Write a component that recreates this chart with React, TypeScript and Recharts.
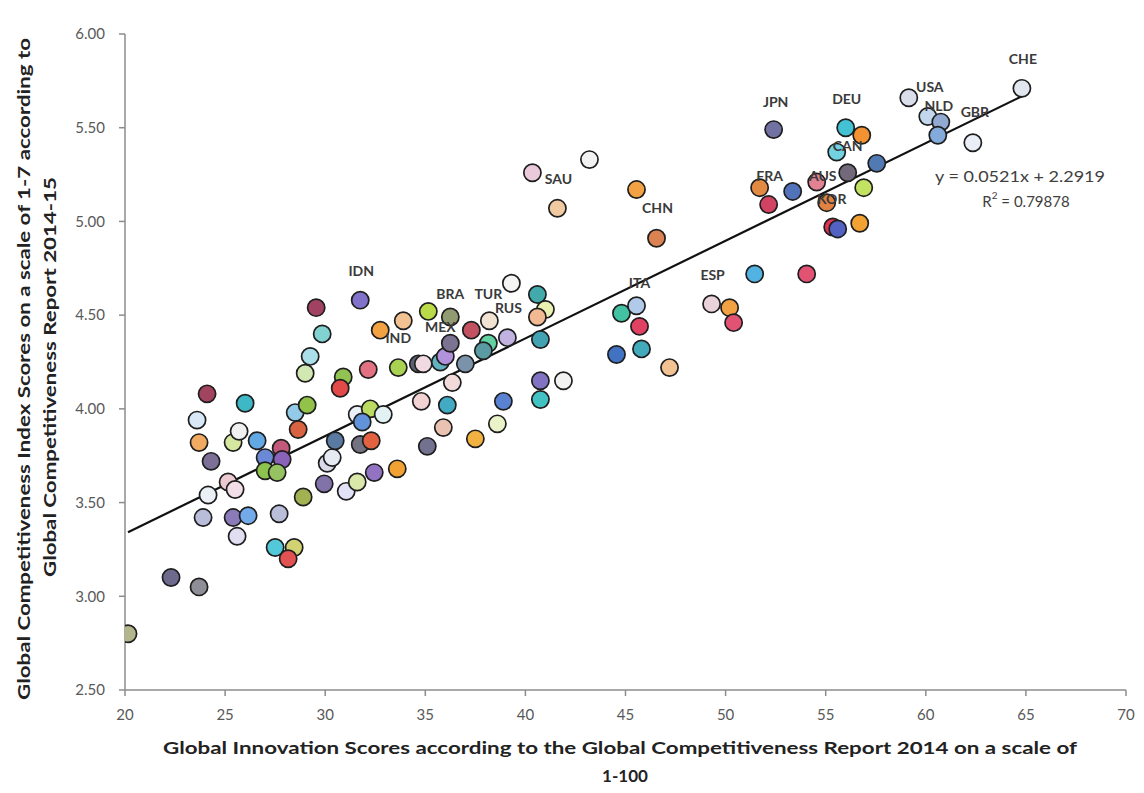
import React from 'react';
import { ScatterChart, Scatter, XAxis, YAxis, ReferenceLine } from 'recharts';

// Global Innovation score (x) and Global Competitiveness Index score (y), one entry per country
const innovationScores = [
  20.15, 22.3, 23.7, 23.6, 23.7, 24.1, 24.3, 24.15, 23.9, 26.0,
  25.4, 25.7, 26.6, 27.0, 27.8, 27.85, 27.0, 27.6, 25.15, 25.5,
  25.4, 26.15, 25.6, 27.7, 27.5, 28.45, 28.15, 28.5, 29.1, 28.65,
  29.0, 29.25, 29.85, 29.55, 28.9, 29.95, 30.1, 30.35, 30.5, 31.05,
  31.6, 32.45, 33.6, 30.9, 30.75, 32.15, 33.65, 32.75, 33.9, 31.75,
  31.6, 32.25, 32.9, 31.85, 31.75, 32.3, 34.65, 34.9, 35.75, 36.0,
  36.25, 37.0, 36.35, 35.15, 36.25, 37.3, 38.2, 39.3, 38.15, 37.9,
  39.1, 40.6, 41.0, 40.6, 40.75, 34.8, 36.1, 35.9, 35.1, 37.5,
  38.6, 38.9, 40.75, 40.75, 41.9, 40.35, 43.2, 41.6, 45.55, 46.55,
  44.8, 45.55, 45.7, 45.8, 44.55, 47.2, 49.3, 50.2, 50.4, 51.45,
  54.05, 51.7, 52.15, 53.35, 54.55, 56.1, 57.55, 55.05, 56.9, 55.35,
  55.6, 56.7, 52.4, 56.0, 56.8, 55.55, 59.15, 60.1, 60.75, 60.6,
  62.35, 64.8,
];
const competitivenessScores = [
  2.80, 3.10, 3.05, 3.94, 3.82, 4.08, 3.72, 3.54, 3.42, 4.03,
  3.82, 3.88, 3.83, 3.74, 3.79, 3.73, 3.67, 3.66, 3.61, 3.57,
  3.42, 3.43, 3.32, 3.44, 3.26, 3.26, 3.20, 3.98, 4.02, 3.89,
  4.19, 4.28, 4.40, 4.54, 3.53, 3.60, 3.71, 3.74, 3.83, 3.56,
  3.61, 3.66, 3.68, 4.17, 4.11, 4.21, 4.22, 4.42, 4.47, 4.58,
  3.97, 4.00, 3.97, 3.93, 3.81, 3.83, 4.24, 4.24, 4.25, 4.28,
  4.35, 4.24, 4.14, 4.52, 4.49, 4.42, 4.47, 4.67, 4.35, 4.31,
  4.38, 4.61, 4.53, 4.49, 4.37, 4.04, 4.02, 3.90, 3.80, 3.84,
  3.92, 4.04, 4.15, 4.05, 4.15, 5.26, 5.33, 5.07, 5.17, 4.91,
  4.51, 4.55, 4.44, 4.32, 4.29, 4.22, 4.56, 4.54, 4.46, 4.72,
  4.72, 5.18, 5.09, 5.16, 5.21, 5.26, 5.31, 5.10, 5.18, 4.97,
  4.96, 4.99, 5.49, 5.50, 5.46, 5.37, 5.66, 5.56, 5.53, 5.46,
  5.42, 5.71,
];
// Country codes shown on the chart, with the index of the point they name
const labelledCountries: [string, number][] = [
  ['CHE', 121], ['USA', 117], ['NLD', 119], ['GBR', 120], ['JPN', 112],
  ['DEU', 113], ['CAN', 105], ['FRA', 102], ['AUS', 107], ['KOR', 109],
  ['ESP', 96], ['ITA', 92], ['CHN', 89], ['SAU', 87], ['IDN', 49],
  ['IND', 46], ['MEX', 59], ['BRA', 64], ['TUR', 66], ['RUS', 70],
];
const xTicks = [20, 25, 30, 35, 40, 45, 50, 55, 60, 65, 70];
const yTicks = [2.5, 3, 3.5, 4, 4.5, 5, 5.5, 6];
const trendSlope = 0.0521;
const trendIntercept = 2.2919;
const rSquaredText = '0.79878';
const xTitle1 = 'Global Innovation Scores according to the Global Competitiveness Report 2014 on a scale of';
const xTitle2 = '1-100';
const yTitle1 = 'Global Competitiveness Index Scores on a scale of 1-7 according to';
const yTitle2 = 'Global Competitiveness Report  2014-15';

// ---- styles ----
const POINT_COLORS = [
  '#b3b58a', '#6e6a8e', '#8e8e96', '#d8e8f6', '#f0aa62', '#a2445f', '#7c7096', '#eaf0f6', '#b9bdd9', '#3fb8c6',
  '#d6e7a0', '#f0f0f0', '#62a8e2', '#6a8ad8', '#c2587a', '#8a62ba', '#8cc24e', '#96c262', '#eccad2', '#f2dee6',
  '#8a7aba', '#72aaea', '#e2def2', '#babed8', '#52c8d8', '#d2d272', '#e25252', '#92cae8', '#92c24a', '#d86242',
  '#d2e8b2', '#aadee8', '#82d2d2', '#a24262', '#a2b252', '#8272aa', '#dadaea', '#e6eaf2', '#5a7aa2', '#e2e2f6',
  '#dae9aa', '#9272c2', '#f2a232', '#92c252', '#e24a4a', '#e27282', '#aad252', '#f2a242', '#f2c292', '#8272ca',
  '#eaf0f6', '#bada62', '#e2f2f2', '#6292da', '#727282', '#e26242', '#5a6272', '#f2dae2', '#62b2c2', '#b292da',
  '#7c7292', '#7a92aa', '#f2dada', '#bada4a', '#929a72', '#c25262', '#f2e2d2', '#f4f4f4', '#62d2a2', '#5a9aa2',
  '#c2b2e2', '#42aaaa', '#eaf2b2', '#f2ba92', '#42a2b2', '#f2d2d2', '#42aac2', '#eac2b2', '#727290', '#f2b242',
  '#eaf2ca', '#5a82d2', '#8272c2', '#42c2c2', '#f2f2f2', '#eacada', '#f2f2f2', '#f2caa2', '#f2a242', '#da8252',
  '#42c2a2', '#b2caea', '#e24262', '#42aaba', '#4272c2', '#f2c292', '#ead2da', '#f2a242', '#e25272', '#52b2e2',
  '#e25272', '#e28a42', '#d24262', '#5272ba', '#e28292', '#726a7a', '#527ab2', '#e28242', '#c2e262', '#e23252',
  '#5262c2', '#f2a232', '#7272a2', '#42c2d2', '#f29232', '#72d2e2', '#dadeea', '#c2d6ee', '#92aad2', '#82aada',
  '#eaeef6', '#e2e6ee',
];
const LABEL_OFFSETS: Record<string, [number, number]> = {
  CHE: [1, -30], USA: [2, -30], NLD: [1, -30], GBR: [2, -31], JPN: [2, -28],
  DEU: [1, -29], CAN: [0, -27], FRA: [1, -29], AUS: [-4, -27], KOR: [-1, -29],
  ESP: [1, -29], ITA: [0, -44], CHN: [1, -31], SAU: [1, -30], IDN: [1, -30],
  IND: [0, -30], MEX: [-5, -30], BRA: [0, -24], TUR: [-1, -27], RUS: [1, -30],
};

const points = innovationScores.map((x, i) => ({ x, y: competitivenessScores[i], i }));
const labelPoints = labelledCountries.map(([code, idx]) => ({
  x: innovationScores[idx],
  y: competitivenessScores[idx],
  code,
}));
const xMin = Math.min(...innovationScores);
const xMax = Math.max(...innovationScores);

const W = 1136;
const H = 785;
const FONT = 'Lato, "Open Sans", sans-serif';

const Dot = (props: any) => {
  const { cx, cy, payload } = props;
  return (
    <circle
      cx={cx}
      cy={cy}
      r={8.6}
      fill={POINT_COLORS[payload.i]}
      stroke="#1e1e1e"
      strokeWidth={1.7}
    />
  );
};

const CountryLabel = (props: any) => {
  const { cx, cy, payload } = props;
  const [dx, dy] = LABEL_OFFSETS[payload.code] || [0, -30];
  return (
    <text
      x={cx + dx}
      y={cy + dy}
      textAnchor="middle"
      dominantBaseline="central"
      fontFamily={FONT}
      fontWeight={700}
      fontSize={14}
      fill="#3a3a3a"
    >
      {payload.code}
    </text>
  );
};

export default function App() {
  return (
    <div style={{ position: 'relative', width: W, height: H, background: '#fff' }}>
      <ScatterChart
        width={W}
        height={H}
        margin={{ top: 26, right: 18, bottom: 63, left: 57 }}
      >
        <XAxis
          type="number"
          dataKey="x"
          domain={[20, 70]}
          ticks={xTicks}
          allowDataOverflow
          height={40}
          tickSize={6}
          tickMargin={13}
          stroke="#8c8c8c"
          strokeWidth={1.5}
          tick={{ fill: '#595959', fontSize: 15, fontFamily: FONT }}
        />
        <YAxis
          type="number"
          dataKey="y"
          domain={[2.5, 6]}
          ticks={yTicks}
          allowDataOverflow
          width={60}
          tickSize={6}
          tickMargin={14}
          stroke="#8c8c8c"
          strokeWidth={1.5}
          tickFormatter={(v: number) => v.toFixed(2)}
          tick={{ fill: '#595959', fontSize: 15, fontFamily: FONT }}
        />
        <Scatter data={points} shape={Dot} isAnimationActive={false} />
        <ReferenceLine
          segment={[
            { x: xMin, y: trendIntercept + trendSlope * xMin },
            { x: xMax, y: trendIntercept + trendSlope * xMax },
          ]}
          stroke="#111"
          strokeWidth={2.2}
        />
        <Scatter data={labelPoints} shape={CountryLabel} isAnimationActive={false} />
      </ScatterChart>
      <svg
        width={W}
        height={H}
        style={{ position: 'absolute', left: 0, top: 0, pointerEvents: 'none' }}
      >
        <g fontFamily={FONT} fontWeight={700} fontSize={17} fill="#222">
          <text x={612} y={739} textAnchor="middle" dominantBaseline="central" textLength={914} lengthAdjust="spacingAndGlyphs">
            {xTitle1}
          </text>
          <text x={617} y={767} textAnchor="middle" dominantBaseline="central">
            {xTitle2}
          </text>
          <text
            x={15}
            y={361}
            transform="rotate(-90, 15, 361)"
            textAnchor="middle"
            dominantBaseline="central"
            textLength={662}
            lengthAdjust="spacingAndGlyphs"
          >
            {yTitle1}
          </text>
          <text
            x={41}
            y={369}
            transform="rotate(-90, 41, 369)"
            textAnchor="middle"
            dominantBaseline="central"
            textLength={400}
            lengthAdjust="spacingAndGlyphs"
          >
            {yTitle2}
          </text>
        </g>
        <g fontFamily={FONT} fontSize={15} fill="#404040">
          <text x={1012} y={168} textAnchor="middle" dominantBaseline="central" textLength={170} lengthAdjust="spacingAndGlyphs">
            {`y = ${trendSlope}x + ${trendIntercept}`}
          </text>
          <text x={1018} y={193} textAnchor="middle" dominantBaseline="central">
            R<tspan baselineShift="super" fontSize={10}>2</tspan> = {rSquaredText}
          </text>
        </g>
      </svg>
    </div>
  );
}
